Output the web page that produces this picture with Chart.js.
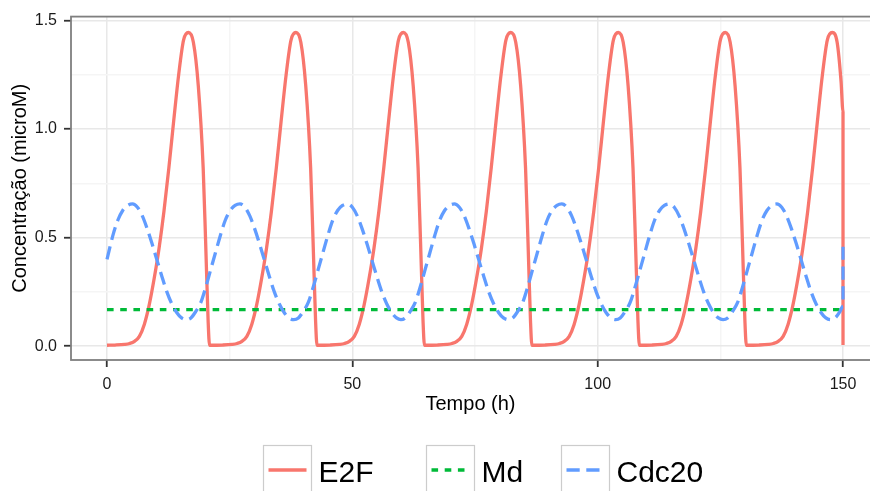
<!DOCTYPE html>
<html>
<head>
<meta charset="utf-8">
<script src="https://cdn.jsdelivr.net/npm/chart.js@4/dist/chart.umd.min.js"></script>
<style>
  html, body { margin: 0; padding: 0; background: #ffffff; }
  #wrap { width: 870px; height: 491px; overflow: hidden; }
  canvas { display: block; }
</style>
</head>
<body>
<div id="wrap"><canvas id="c" width="870" height="491"></canvas></div>
<script>
// ---------------- data ----------------
const seriesNames = ['E2F', 'Md', 'Cdc20'];

// E2F (time in h, concentration in microM)
const e2fTime = [
  0, 1.6, 3.6, 4.6, 5.6, 6.6, 7.6, 8.6, 9.6, 10.6, 11.6, 12.6, 13.6, 14.6, 15.6, 16.6, 17.6, 18.6, 19.6, 20.1, 20.6, 20.9,
  23.5, 25.5, 26.5, 27.5, 28.5, 29.5, 30.5, 31.5, 32.5, 33.5, 34.5, 35.5, 36.5, 37.5, 38.5, 39.5, 40.5, 41.5, 42.0, 42.5, 42.8,
  45.4, 47.4, 48.4, 49.4, 50.4, 51.4, 52.4, 53.4, 54.4, 55.4, 56.4, 57.4, 58.4, 59.4, 60.4, 61.4, 62.4, 63.4, 63.9, 64.4, 64.7,
  67.3, 69.3, 70.3, 71.3, 72.3, 73.3, 74.3, 75.3, 76.3, 77.3, 78.3, 79.3, 80.3, 81.3, 82.3, 83.3, 84.3, 85.3, 85.8, 86.3, 86.6,
  89.2, 91.2, 92.2, 93.2, 94.2, 95.2, 96.2, 97.2, 98.2, 99.2, 100.2, 101.2, 102.2, 103.2, 104.2, 105.2, 106.2, 107.2, 107.7, 108.2, 108.5,
  111.0, 113.0, 114.0, 115.0, 116.0, 117.0, 118.0, 119.0, 120.0, 121.0, 122.0, 123.0, 124.0, 125.0, 126.0, 127.0, 128.0, 129.0, 129.5, 130.0, 130.3,
  132.8, 134.8, 135.8, 136.8, 137.8, 138.8, 139.8, 140.8, 141.8, 142.8, 143.8, 144.8, 145.8, 146.8, 147.8, 148.8, 149.6, 150, 150
];
const e2fValue = [
  0.004, 0.005, 0.008, 0.012, 0.022, 0.045, 0.10, 0.19, 0.31, 0.45, 0.62, 0.82, 1.04, 1.25, 1.41, 1.445, 1.40, 1.20, 0.82, 0.48, 0.12, 0.004,
  0.005, 0.008, 0.012, 0.022, 0.045, 0.10, 0.19, 0.31, 0.45, 0.62, 0.82, 1.04, 1.25, 1.41, 1.445, 1.40, 1.20, 0.82, 0.48, 0.12, 0.004,
  0.005, 0.008, 0.012, 0.022, 0.045, 0.10, 0.19, 0.31, 0.45, 0.62, 0.82, 1.04, 1.25, 1.41, 1.445, 1.40, 1.20, 0.82, 0.48, 0.12, 0.004,
  0.005, 0.008, 0.012, 0.022, 0.045, 0.10, 0.19, 0.31, 0.45, 0.62, 0.82, 1.04, 1.25, 1.41, 1.445, 1.40, 1.20, 0.82, 0.48, 0.12, 0.004,
  0.005, 0.008, 0.012, 0.022, 0.045, 0.10, 0.19, 0.31, 0.45, 0.62, 0.82, 1.04, 1.25, 1.41, 1.445, 1.40, 1.20, 0.82, 0.48, 0.12, 0.004,
  0.005, 0.008, 0.012, 0.022, 0.045, 0.10, 0.19, 0.31, 0.45, 0.62, 0.82, 1.04, 1.25, 1.41, 1.445, 1.40, 1.20, 0.82, 0.48, 0.12, 0.004,
  0.005, 0.008, 0.012, 0.022, 0.045, 0.10, 0.19, 0.31, 0.45, 0.62, 0.82, 1.04, 1.25, 1.41, 1.445, 1.40, 1.22, 1.08, 0.005
];

// Md
const mdTime = [0, 150];
const mdValue = [0.168, 0.168];

// Cdc20
const cdc20Time = [
  0, 1.2, 2.2, 3.2, 4.2, 5.2, 6.2, 7.2, 8.2, 9.2, 10.2, 11.2, 12.2, 13.2, 14.2, 15.2, 16.15,
  17.1, 18.1, 19.1, 20.1, 21.1, 22.1, 23.1, 24.1, 25.1, 26.1, 27.1, 28.1, 29.1, 30.1, 31.1, 32.1, 33.1, 34.1, 35.1, 36.1, 37.1, 38.05,
  39.0, 40.0, 41.0, 42.0, 43.0, 44.0, 45.0, 46.0, 47.0, 48.0, 49.0, 50.0, 51.0, 52.0, 53.0, 54.0, 55.0, 56.0, 57.0, 58.0, 59.0, 59.9,
  60.8, 61.8, 62.8, 63.8, 64.8, 65.8, 66.8, 67.8, 68.8, 69.8, 70.8, 71.8, 72.8, 73.8, 74.8, 75.8, 76.8, 77.8, 78.8, 79.8, 80.8, 81.75,
  82.7, 83.7, 84.7, 85.7, 86.7, 87.7, 88.7, 89.7, 90.7, 91.7, 92.7, 93.7, 94.7, 95.7, 96.7, 97.7, 98.7, 99.7, 100.7, 101.7, 102.7, 103.65,
  104.6, 105.6, 106.6, 107.6, 108.6, 109.6, 110.6, 111.6, 112.6, 113.6, 114.6, 115.6, 116.6, 117.6, 118.6, 119.6, 120.6, 121.6, 122.6, 123.6, 124.6, 125.55,
  126.5, 127.5, 128.5, 129.5, 130.5, 131.5, 132.5, 133.5, 134.5, 135.5, 136.5, 137.5, 138.5, 139.5, 140.5, 141.5, 142.5, 143.5, 144.5, 145.5, 146.5, 147.45,
  148.4, 149.4, 150, 150
];
const cdc20Value = [
  0.40, 0.51, 0.58, 0.625, 0.648, 0.655, 0.64, 0.60, 0.54, 0.47, 0.395, 0.32, 0.25, 0.195, 0.155, 0.13, 0.122,
  0.13, 0.16, 0.20, 0.27, 0.35, 0.43, 0.51, 0.58, 0.625, 0.648, 0.655, 0.64, 0.60, 0.54, 0.47, 0.395, 0.32, 0.25, 0.195, 0.155, 0.13, 0.122,
  0.13, 0.16, 0.20, 0.27, 0.35, 0.43, 0.51, 0.58, 0.625, 0.648, 0.655, 0.64, 0.60, 0.54, 0.47, 0.395, 0.32, 0.25, 0.195, 0.155, 0.13, 0.122,
  0.13, 0.16, 0.20, 0.27, 0.35, 0.43, 0.51, 0.58, 0.625, 0.648, 0.655, 0.64, 0.60, 0.54, 0.47, 0.395, 0.32, 0.25, 0.195, 0.155, 0.13, 0.122,
  0.13, 0.16, 0.20, 0.27, 0.35, 0.43, 0.51, 0.58, 0.625, 0.648, 0.655, 0.64, 0.60, 0.54, 0.47, 0.395, 0.32, 0.25, 0.195, 0.155, 0.13, 0.122,
  0.13, 0.16, 0.20, 0.27, 0.35, 0.43, 0.51, 0.58, 0.625, 0.648, 0.655, 0.64, 0.60, 0.54, 0.47, 0.395, 0.32, 0.25, 0.195, 0.155, 0.13, 0.122,
  0.13, 0.16, 0.20, 0.27, 0.35, 0.43, 0.51, 0.58, 0.625, 0.648, 0.655, 0.64, 0.60, 0.54, 0.47, 0.395, 0.32, 0.25, 0.195, 0.155, 0.13, 0.122,
  0.13, 0.16, 0.185, 0.47
];

// axis ticks
const xMajorTicks = [0, 50, 100, 150];
const xTickLabels = ['0', '50', '100', '150'];
const xMinorTicks = [25, 75, 125];
const yMajorTicks = [0, 0.5, 1.0, 1.5];
const yTickLabels = ['0.0', '0.5', '1.0', '1.5'];
const yMinorTicks = [0.25, 0.75, 1.25];

const xTitle = 'Tempo (h)';
const yTitle = 'Concentração (microM)';

// ---------------- styling ----------------
const FONT = "'Liberation Sans', Arial, Helvetica, sans-serif";
const colors = { E2F: '#F8766D', Md: '#00BA38', Cdc20: '#619CFF' };
const dashes = { E2F: [], Md: [6.6, 6.6], Cdc20: [13.2, 6.6] };

const toPoints = (xs, ys) => xs.map((x, i) => ({ x: x, y: ys[i] }));

function isMajor(list, v) { return list.some(m => Math.abs(m - v) < 1e-9); }

function tickArray(majors, minors) {
  return majors.concat(minors).sort((a, b) => a - b).map(v => ({ value: v }));
}

const panelBorder = {
  id: 'panelBorder',
  afterDatasetsDraw(chart) {
    const a = chart.chartArea, ctx = chart.ctx;
    ctx.save();
    ctx.strokeStyle = '#7f7f7f';
    ctx.lineWidth = 1.8;
    ctx.strokeRect(a.left, a.top, a.right - a.left + 20, a.bottom - a.top);
    ctx.restore();
  }
};

// ggplot-like legend with grey key boxes
const legendBoxLeft = [263.5, 426.5, 561.5];
const ggLegend = {
  id: 'ggLegend',
  afterDraw(chart) {
    const ctx = chart.ctx;
    ctx.save();
    chart.data.datasets.forEach((ds, i) => {
      const bx = legendBoxLeft[i], by = 445.5, bw = 48, bh = 50;
      ctx.fillStyle = '#ffffff';
      ctx.fillRect(bx, by, bw, bh);
      ctx.strokeStyle = '#cccccc';
      ctx.lineWidth = 1.2;
      ctx.strokeRect(bx, by, bw, bh);
      ctx.beginPath();
      ctx.setLineDash(ds.borderDash || []);
      ctx.lineCap = 'butt';
      ctx.strokeStyle = ds.borderColor;
      ctx.lineWidth = 3.6;
      ctx.moveTo(bx + 5, 470);
      ctx.lineTo(bx + bw - 5, 470);
      ctx.stroke();
      ctx.setLineDash([]);
      ctx.fillStyle = '#000000';
      ctx.font = '30px ' + FONT;
      ctx.textBaseline = 'alphabetic';
      ctx.textAlign = 'left';
      ctx.fillText(ds.label, bx + bw + 7, 481.5);
    });
    ctx.restore();
  }
};

const gridColor = (majors) => (c) => (c.tick && isMajor(majors, c.tick.value)) ? '#e8e8e8' : '#f5f5f5';
const tickColor = (majors) => (c) => (c.tick && isMajor(majors, c.tick.value)) ? '#333333' : 'rgba(0,0,0,0)';

new Chart(document.getElementById('c'), {
  type: 'line',
  data: {
    datasets: [
      { label: seriesNames[0], data: toPoints(e2fTime, e2fValue), borderColor: colors.E2F, borderDash: dashes.E2F,
        borderWidth: 3.3, order: 3, cubicInterpolationMode: 'monotone', fill: false },
      { label: seriesNames[1], data: toPoints(mdTime, mdValue), borderColor: colors.Md, borderDash: dashes.Md,
        borderWidth: 3.3, order: 2, fill: false },
      { label: seriesNames[2], data: toPoints(cdc20Time, cdc20Value), borderColor: colors.Cdc20, borderDash: dashes.Cdc20,
        borderWidth: 3.3, order: 1, cubicInterpolationMode: 'monotone', fill: false }
    ]
  },
  options: {
    responsive: false,
    animation: false,
    devicePixelRatio: 1,
    layout: { padding: { top: 14, left: 0, right: 0, bottom: 0 } },
    elements: { point: { radius: 0, hoverRadius: 0 }, line: { borderCapStyle: 'butt', borderJoinStyle: 'round' } },
    plugins: { legend: { display: false }, tooltip: { enabled: false } },
    scales: {
      x: {
        type: 'linear',
        min: -7.34,
        max: 155.5,
        afterBuildTicks: (s) => { s.ticks = tickArray(xMajorTicks, xMinorTicks); },
        afterFit: (s) => { s.height = 131; },
        border: { display: false },
        grid: { color: gridColor(xMajorTicks), lineWidth: 1.5, drawTicks: true, tickLength: 7,
                tickWidth: 1.8, tickColor: tickColor(xMajorTicks) },
        ticks: {
          autoSkip: false, maxRotation: 0, padding: 8, color: '#1a1a1a',
          font: { family: FONT, size: 16 },
          callback: (v) => { const k = xMajorTicks.findIndex(m => Math.abs(m - v) < 1e-9); return k >= 0 ? xTickLabels[k] : ''; }
        },
        title: { display: true, text: xTitle, color: '#000000', font: { family: FONT, size: 20 }, padding: { top: 0, bottom: 75 } }
      },
      y: {
        type: 'linear',
        min: -0.064,
        max: 1.5183,
        afterBuildTicks: (s) => { s.ticks = tickArray(yMajorTicks, yMinorTicks); },
        afterFit: (s) => { s.width = 71; },
        border: { display: false },
        grid: { color: gridColor(yMajorTicks), lineWidth: 1.5, drawTicks: true, tickLength: 7,
                tickWidth: 1.8, tickColor: tickColor(yMajorTicks) },
        ticks: {
          autoSkip: false, padding: 7, color: '#1a1a1a',
          font: { family: FONT, size: 16 },
          callback: (v) => { const k = yMajorTicks.findIndex(m => Math.abs(m - v) < 1e-9); return k >= 0 ? yTickLabels[k] : ''; }
        },
        title: { display: true, text: yTitle, color: '#000000', font: { family: FONT, size: 20 }, padding: { top: 8, bottom: 0 } }
      }
    }
  },
  plugins: [panelBorder, ggLegend]
});
</script>
</body>
</html>
